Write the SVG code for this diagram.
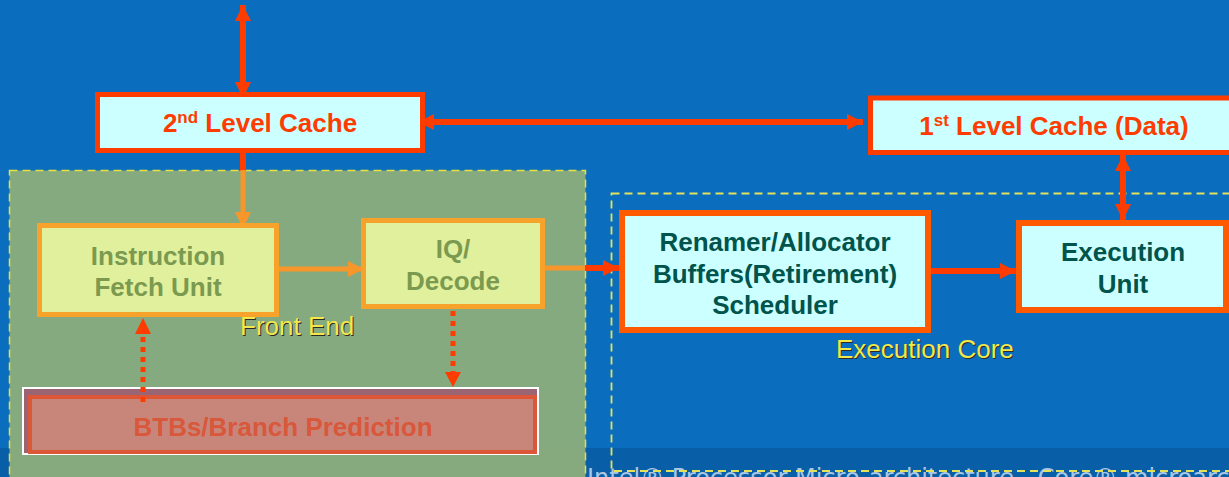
<svg xmlns="http://www.w3.org/2000/svg" width="1229" height="477" viewBox="0 0 1229 477">
<defs>
<style>
.bt{font-family:"Liberation Sans",Arial,sans-serif;font-weight:bold;font-size:26px;text-anchor:middle}
.lbl{font-family:"Liberation Sans",Arial,sans-serif;font-size:26px;fill:#f2e84a}
.sh{font-family:"Liberation Sans",Arial,sans-serif;font-size:26px;fill:#2a2a2a}
.red{stroke:#ff3c00;stroke-width:6;fill:none}
.org{stroke:#f7962a;stroke-width:5;fill:none}
.dot{stroke:#ff3c00;stroke-width:5;fill:none;stroke-dasharray:5 5}
.cbox{fill:#ccffff;stroke:#ff3c00;stroke-width:5}
.ebox{fill:#ccffff;stroke:#ff5a00;stroke-width:6}
.fbox{fill:#e1f09c;stroke:#f7a22a;stroke-width:5}
</style>
<marker id="hr" viewBox="0 0 16 16" refX="16" refY="8" markerWidth="16" markerHeight="16" markerUnits="userSpaceOnUse" orient="auto-start-reverse"><path d="M0,0 L16,8 L0,16 Z" fill="#ff3c00"/></marker>
<marker id="ho" viewBox="0 0 16 16" refX="16" refY="8" markerWidth="16" markerHeight="16" markerUnits="userSpaceOnUse" orient="auto-start-reverse"><path d="M0,0 L16,8 L0,16 Z" fill="#f7962a"/></marker>
</defs>
<rect x="0" y="0" width="1229" height="477" fill="#0a6dbe"/>
<rect x="0" y="448" width="1229" height="29" fill="#095ea8"/>
<text x="587" y="486" font-family="DejaVu Sans,sans-serif" font-size="24" fill="#a9c6e4">Intel® Processor Micro-architecture - Core® microarchitecture</text>

<g id="front-end">
<rect x="9.5" y="170.5" width="576" height="330" fill="#91b07a" fill-opacity="0.92" stroke="#e8e040" stroke-width="1.5" stroke-dasharray="8 5"/>
<text class="sh" x="241" y="336">Front End</text>
<text class="lbl" x="240" y="335">Front End</text>
</g>
<g id="execution-core">
<rect x="611.5" y="193.5" width="640" height="277.5" fill="none" stroke="#e4e25a" stroke-width="1.8" stroke-dasharray="8 5"/>
<text class="sh" x="837" y="359">Execution Core</text>
<text class="lbl" x="836" y="358">Execution Core</text>
</g>

<g id="connectors">
<line class="red" x1="243" y1="5" x2="243" y2="98" marker-start="url(#hr)" marker-end="url(#hr)"/>
<line class="red" x1="418" y1="122" x2="863" y2="122" marker-start="url(#hr)" marker-end="url(#hr)"/>
<line class="red" x1="243" y1="153" x2="243" y2="171"/>
<line class="org" x1="243" y1="170" x2="243" y2="228" marker-end="url(#ho)"/>
<line class="org" x1="279" y1="269" x2="364" y2="269" marker-end="url(#ho)"/>
<line class="org" x1="545" y1="268" x2="586" y2="268"/>
<line class="red" x1="585" y1="268" x2="619" y2="268" marker-end="url(#hr)"/>
<line class="red" x1="931" y1="271" x2="1016" y2="271" marker-end="url(#hr)"/>
<line class="red" x1="1123" y1="155" x2="1123" y2="220" marker-start="url(#hr)" marker-end="url(#hr)"/>
<line class="dot" x1="453" y1="311" x2="453" y2="372"/>
<path d="M445,372 L461,372 L453,387 Z" fill="#ff3c00"/>
</g>

<g id="l2-cache">
<rect class="cbox" x="97.5" y="94.5" width="325" height="56"/>
<text class="bt" x="260" y="132" fill="#ff3c00">2<tspan font-size="17" dy="-9">nd</tspan><tspan dy="9"> Level Cache</tspan></text>
</g>
<g id="l1-cache">
<rect class="cbox" x="870.5" y="98" width="400" height="54.5"/>
<text class="bt" x="1054" y="135" fill="#ff3c00">1<tspan font-size="17" dy="-9">st</tspan><tspan dy="9"> Level Cache (Data)</tspan></text>
</g>
<g id="renamer">
<rect class="ebox" x="622" y="213" width="306" height="117"/>
<text class="bt" x="775" y="251" fill="#00544c">Renamer/Allocator</text>
<text class="bt" x="775" y="283" fill="#00544c">Buffers(Retirement)</text>
<text class="bt" x="775" y="314" fill="#00544c">Scheduler</text>
</g>
<g id="execution-unit">
<rect class="ebox" x="1019" y="223" width="207" height="87"/>
<text class="bt" x="1123" y="261" fill="#00544c">Execution</text>
<text class="bt" x="1123" y="293" fill="#00544c">Unit</text>
</g>
<g id="fetch">
<rect class="fbox" x="39.5" y="225.5" width="237" height="89"/>
<text class="bt" x="158" y="265" fill="#7b9a50">Instruction</text>
<text class="bt" x="158" y="296" fill="#7b9a50">Fetch Unit</text>
</g>
<g id="decode">
<rect class="fbox" x="363.5" y="220.5" width="179" height="86"/>
<text class="bt" x="453" y="258" fill="#7b9a50">IQ/</text>
<text class="bt" x="453" y="290" fill="#7b9a50">Decode</text>
</g>
<g id="btb">
<rect x="23" y="388" width="515" height="66" fill="#9a6472" stroke="#ffffff" stroke-width="2"/>
<rect x="30" y="397" width="505" height="55" fill="#c8867a" stroke="#dc5638" stroke-width="4"/>
<text class="bt" x="283" y="436" fill="#d9573b">BTBs/Branch Prediction</text>
</g>
<g id="connectors-2">
<line class="dot" x1="143" y1="402" x2="143" y2="333" stroke="#e02a10"/>
<path d="M135,334 L151,334 L143,318 Z" fill="#ff3c00"/>
</g>
</svg>
